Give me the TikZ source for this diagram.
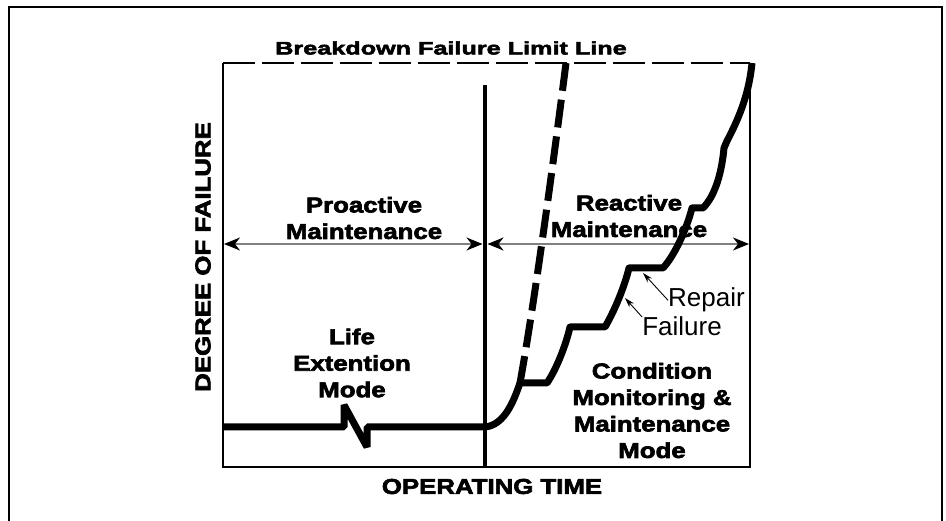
\documentclass[tikz,border=0pt]{standalone}
\usepackage{fontspec}
\setmainfont{Liberation Sans}
\newfontfamily\heavy{Liberation Sans}[FakeStretch=1.2,FakeBold=3]
\newfontfamily\wideheavy{Liberation Sans}[FakeStretch=1.4,FakeBold=3]
\usetikzlibrary{arrows.meta,calc}
\tikzset{
    bold label/.style={font=\heavy\bfseries\fontsize{21.5}{26.5}\selectfont, align=center, inner sep=0pt},
    thin label/.style={font=\fontsize{26}{30}\selectfont, inner sep=0pt},
    box line/.style={line width=2.2pt},
    span/.style={gray, line width=1.2pt, {Stealth[length=16pt,width=13pt,inset=5pt,color=black]}-{Stealth[length=16pt,width=13pt,inset=5pt,color=black]}},
    wear/.style={line width=7pt},
    leader/.style={line width=0.9pt, -{Stealth[length=10pt,width=6pt]}}}

\begin{document}
\begin{tikzpicture}[x=1pt,y=-1pt]
\useasboundingbox (0,0) rectangle (946,521);
% outer frame (open at the bottom)
\draw[line width=2.5pt] (9,540) -- (9,7) -- (942,7) -- (942,540);
\coordinate (TL) at (223,63);
\coordinate (TR) at (750,63);
\coordinate (BL) at (223,467);
\coordinate (BR) at (750,467);
\coordinate (Mtop) at (485,85);
\coordinate (Mbot) at (485,467);
\draw[box line] (TL) -- (BL) -- (BR) -- (TR);
\draw[box line, dash pattern=on 32pt off 7pt] (TL) -- (TR);
\draw[line width=4.5pt] (Mtop) -- (Mbot);
%\draw[red] (Mtop) circle (3);
\node[font=\wideheavy\bfseries\fontsize{18}{20}\selectfont, inner sep=0pt] (limit) at (451,48) {Breakdown Failure Limit Line};
\node[bold label, rotate=90] (yaxis) at (203,257) {DEGREE OF FAILURE};
\node[bold label] (xaxis) at (492,486.5) {OPERATING TIME};
% the two spans
\coordinate (pL) at (224,244);
\coordinate (pM1) at (482.5,244);
\coordinate (pM2) at (487.5,244);
\coordinate (pR) at (749,244);
\draw[span] (pL) -- (pM1);
\draw[span] (pM2) -- (pR);
\node[bold label] (proactive) at (364,218) {Proactive\\Maintenance};
\node[bold label] (reactive) at (629,216) {Reactive\\Maintenance};
\node[bold label] (life) at (352,363) {Life\\Extention\\Mode};
\node[bold label] (cond) at (652,410.5) {Condition\\Monitoring \&\\Maintenance\\Mode};
% life extention line with break
\coordinate (L0) at (223,427);
\coordinate (M0) at (485,427);
\draw[wear, line join=bevel] (L0) -- (344,427) -- (344,405) -- (367,447) -- (367,427) -- (M0);
% run to failure (dashed)
\coordinate (S1) at (520,383);
\coordinate (Dtop) at (566,63);
\draw[wear, dash pattern=on 28pt off 9pt] (Dtop) .. controls (555,150) and (535,300) .. (S1);
% condition monitored run, repaired in steps
\draw[wear, line join=round] (M0) .. controls (505,425) and (514,400) .. (S1) -- (547,383)
    .. controls (556,370) and (566,345) .. (570,327) -- (605,327)
    .. controls (615,310) and (625,285) .. (629,268) -- (663,268)
    .. controls (675,255) and (687,228) .. (692,208) -- (703,208)
    .. controls (716,195) and (722,170) .. (724,148) -- (727,141)
    .. controls (738,120) and (749,95) .. (752,63);
\node[thin label, anchor=base] (repair) at (706.5,307) {Repair};
\node[thin label, anchor=base] (failure) at (682,336) {Failure};
\coordinate (repTip) at (643,273);
\coordinate (failTip) at (625,298);
\draw[leader] (repair.west) -- (repTip);
\draw[leader] (failure.north west) -- (failTip);
\end{tikzpicture}
\end{document}
